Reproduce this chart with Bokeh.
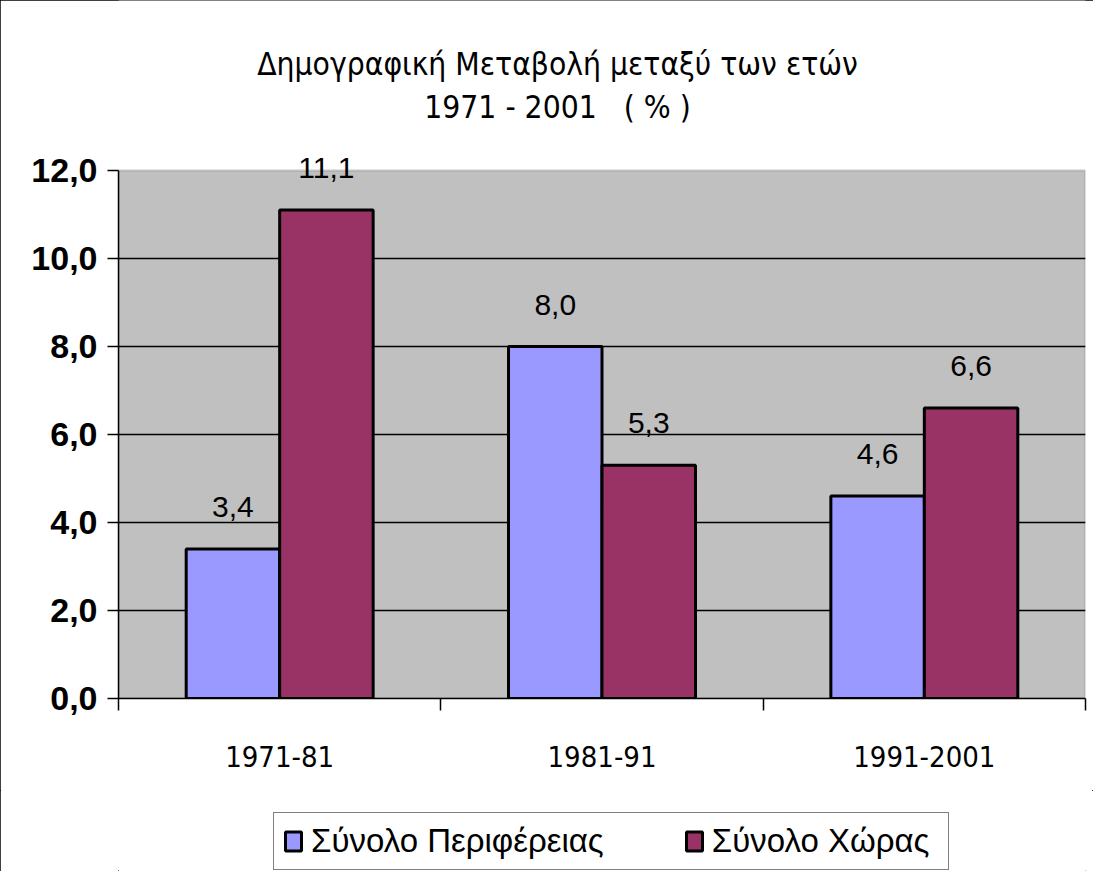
from bokeh.plotting import figure
from bokeh.layouts import column
from bokeh.models import (ColumnDataSource, Range1d, LinearAxis, FixedTicker, BoxAnnotation,
                          CustomJSTickFormatter, Label, LabelSet, Legend, LegendItem, Grid)
from bokeh.core.properties import value
from bokeh.transform import dodge
from bokeh.embed import file_html
from bokeh.resources import INLINE

title_line1 = "Δημογραφική Μεταβολή μεταξύ των ετών"
title_line2 = "1971 - 2001\u00a0\u00a0 ( % )"
categories = ["1971-81", "1981-91", "1991-2001"]
series_names = ["Σύνολο Περιφέρειας", "Σύνολο Χώρας"]
region = [3.4, 8.0, 4.6]
country = [11.1, 5.3, 6.6]
y_ticks = [0, 2, 4, 6, 8, 10, 12]
boundary_ticks = [0, 1, 2, 3]
colors = ["#9999FF", "#993366"]


def fmt(v):
    return f"{v:.1f}".replace(".", ",")


COND = "DejaVu Sans Condensed"
SANS = "Liberation Sans"

src = ColumnDataSource(dict(
    x=[i + 0.5 for i in range(len(categories))],
    region=region,
    country=country,
    region_lbl=[fmt(v) for v in region],
    country_lbl=[fmt(v) for v in country],
))

W, H = 1093, 871
MAIN_H = 790
AXIS_TOP_PX = 170     # where 12,0 sits
AXIS_BOT_PX = 698     # where 0,0 sits
y_max = y_ticks[-1]
y_end = y_max * AXIS_BOT_PX / (AXIS_BOT_PX - AXIS_TOP_PX)

p = figure(width=W, height=MAIN_H, x_range=Range1d(0, len(categories)), y_range=Range1d(0, y_end),
           output_backend="svg", toolbar_location=None,
           x_axis_type=None, y_axis_type=None,
           min_border_left=118, min_border_right=8, min_border_top=0,
           min_border_bottom=MAIN_H - AXIS_BOT_PX)
p.background_fill_color = "white"
p.border_fill_color = "white"
p.outline_line_color = None

# grey plot area (0..12)
p.add_layout(BoxAnnotation(left=0, right=len(categories), bottom=0, top=y_max,
                           fill_color="#C0C0C0", fill_alpha=1,
                           line_color="#808080", line_width=2.5, level="image"))

# y axis
yaxis = LinearAxis(ticker=FixedTicker(ticks=y_ticks), bounds=(0, y_max),
                   formatter=CustomJSTickFormatter(code="return tick.toFixed(1).replace('.', ',')"))
yaxis.axis_line_color = "black"
yaxis.axis_line_width = 1.5
yaxis.major_tick_line_color = "black"
yaxis.major_tick_line_width = 1.5
yaxis.major_tick_out = 11
yaxis.major_tick_in = 0
yaxis.minor_tick_line_color = None
yaxis.major_label_standoff = 10
yaxis.major_label_text_font = SANS
yaxis.major_label_text_font_style = "bold"
yaxis.major_label_text_font_size = "34px"
yaxis.major_label_text_color = "black"
p.add_layout(yaxis, "left")

p.add_layout(Grid(dimension=1, ticker=FixedTicker(ticks=y_ticks[1:-1]),
                  grid_line_color="black", grid_line_width=1.5))

# x axis: tick marks at category boundaries
xaxis_ticks = LinearAxis(ticker=FixedTicker(ticks=boundary_ticks),
                         formatter=CustomJSTickFormatter(code="return ''"))
xaxis_ticks.axis_line_color = "black"
xaxis_ticks.axis_line_width = 1.5
xaxis_ticks.major_tick_line_color = "black"
xaxis_ticks.major_tick_line_width = 1.5
xaxis_ticks.major_tick_out = 12
xaxis_ticks.major_tick_in = 0
xaxis_ticks.minor_tick_line_color = None
xaxis_ticks.major_label_text_font_size = "2px"
xaxis_ticks.major_label_standoff = 0
p.add_layout(xaxis_ticks, "below")

# x axis: category labels at centres
xaxis_lbl = LinearAxis(ticker=FixedTicker(ticks=[i + 0.5 for i in range(len(categories))]),
                       formatter=CustomJSTickFormatter(args=dict(cats=categories),
                                                       code="return cats[Math.floor(tick)]"))
xaxis_lbl.axis_line_color = None
xaxis_lbl.major_tick_line_color = None
xaxis_lbl.minor_tick_line_color = None
xaxis_lbl.major_label_standoff = 29
xaxis_lbl.major_label_text_font = COND
xaxis_lbl.major_label_text_font_size = "29px"
xaxis_lbl.major_label_text_color = "black"
p.add_layout(xaxis_lbl, "below")

bw = 0.29
p.vbar(x=dodge("x", -bw / 2, range=p.x_range), top="region", width=bw, source=src,
       fill_color=colors[0], line_color="black", line_width=3)
p.vbar(x=dodge("x", bw / 2, range=p.x_range), top="country", width=bw, source=src,
       fill_color=colors[1], line_color="black", line_width=3)

lbl_kw = dict(source=src, y_offset=42, text_align="center", text_baseline="middle",
              text_font=value(SANS), text_font_size=value("30px"), text_color="black")
p.add_layout(LabelSet(x=dodge("x", -bw / 2, range=p.x_range), y="region", text="region_lbl", **lbl_kw))
p.add_layout(LabelSet(x=dodge("x", bw / 2, range=p.x_range), y="country", text="country_lbl", **lbl_kw))

# title (two lines above the grey area)
for txt, yy in [(title_line1, 14.43), (title_line2, 13.45)]:
    p.add_layout(Label(x=1.362, y=yy, text=txt, text_align="center", text_baseline="middle",
                       text_font=COND, text_font_size="31.5px", text_color="black"))

# legend strip below the chart (its frame is aligned with the main frame)
LEG_H = H - MAIN_H
lf = figure(width=W, height=LEG_H, x_range=Range1d(0, 1), y_range=Range1d(0, 1),
            output_backend="svg", toolbar_location=None, x_axis_type=None, y_axis_type=None,
            min_border=0)
lf.outline_line_color = None
lf.background_fill_color = "white"
lf.border_fill_color = "white"
# swatch renderers sit outside the visible range; they only supply legend glyphs
swatch = ColumnDataSource(dict(x=[-10], top=[0]))
lr = [lf.vbar(x="x", top="top", width=0.1, source=swatch, fill_color=c,
              line_color="black", line_width=3) for c in colors]

legend = Legend(items=[LegendItem(label=n, renderers=[r]) for n, r in zip(series_names, lr)],
                orientation="horizontal", location=(155, 1))
legend.border_line_color = "black"
legend.border_line_width = 1.5
legend.background_fill_color = "white"
legend.background_fill_alpha = 1
legend.label_text_font = SANS
legend.label_text_font_size = "33px"
legend.label_text_color = "black"
legend.label_width = 227
legend.glyph_width = 20
legend.glyph_height = 24
legend.label_standoff = 8
legend.spacing = 80
legend.padding = 9
legend.margin = 0
lf.add_layout(legend)

layout = column(p, lf, spacing=0)
layout.styles = {"outline": "1.5px solid black", "outline-offset": "-1.5px"}

open("out.html", "w").write(file_html(layout, INLINE))
